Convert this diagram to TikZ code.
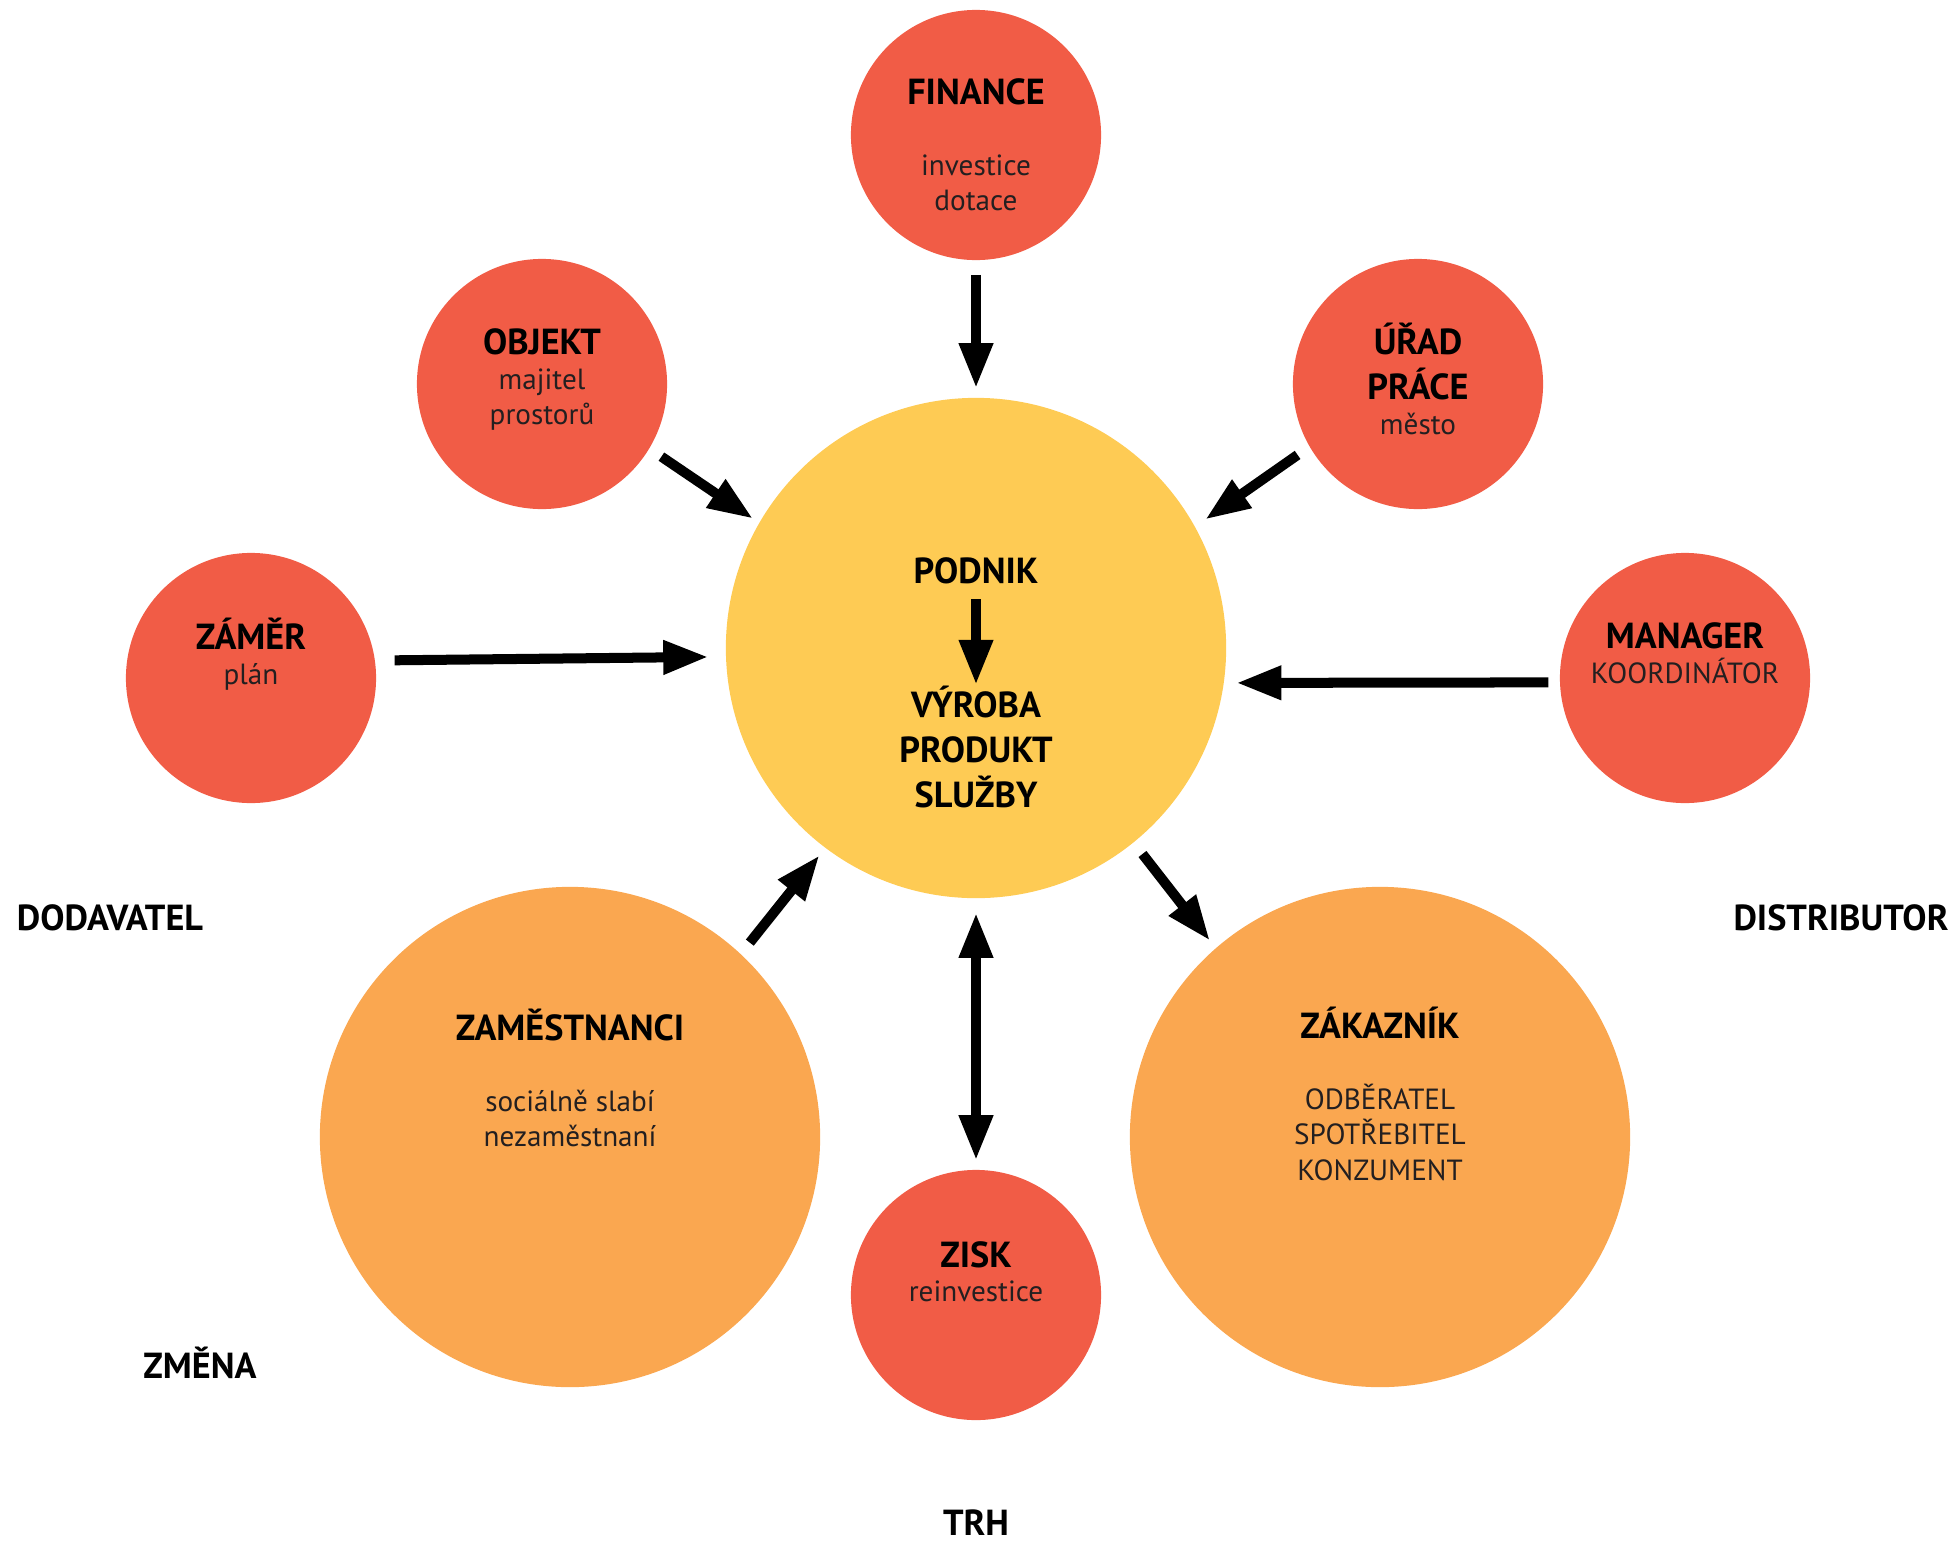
\documentclass[tikz,border=0pt]{standalone}
\usepackage{fontspec}
\setmainfont{PT Sans}
\usepackage{tikz}
\usetikzlibrary{arrows.meta, positioning}
\definecolor{firmred}{RGB}{241,92,70}
\definecolor{firmyellow}{RGB}{254,203,84}
\definecolor{firmorange}{RGB}{250,167,80}
\definecolor{firmgray}{RGB}{35,31,32}
% lines stacked, baseline on the first one
\newcommand{\stk}[1]{\begin{tabular}[t]{@{}c@{}}#1\end{tabular}}

\begin{document}
\begin{tikzpicture}[
  x=0.01cm, y=-0.01cm,
  bub/.style={circle, inner sep=0pt, minimum size=2.5cm, fill=firmred},
  bigbub/.style={circle, inner sep=0pt, minimum size=5cm, fill=firmorange},
  core/.style={bigbub, fill=firmyellow},
  ttl/.style={anchor=base, inner sep=0pt,
    font=\fontsize{10.3}{12.8}\selectfont\bfseries},
  sub/.style={anchor=base, inner sep=0pt, text=firmgray,
    font=\fontsize{8.3}{10}\selectfont},
  arr/.style={-{Triangle[width=0.32cm,length=0.45cm]}, line width=0.1cm,
    shorten <=0.14cm, shorten >=0.09cm},
  arrboth/.style={arr, {Triangle[width=0.32cm,length=0.45cm]}-{Triangle[width=0.32cm,length=0.45cm]}}
]
  \useasboundingbox (0,0) rectangle (1957,1545);

  % Bubbles
  \node[core]   (pod)  at (976,648)   {};
  \node[bub]    (fin)  at (976,135)   {};
  \node[bub]    (obj)  at (542,384)   {};
  \node[bub]    (urad) at (1418,384)  {};
  \node[bub]    (zam)  at (251,678)   {};
  \node[bub]    (man)  at (1685,678)  {};
  \node[bigbub] (emp)  at (570,1137)  {};
  \node[bigbub] (cust) at (1380,1137) {};
  \node[bub]    (zisk) at (976,1295)  {};

  % Bubble texts
  \node[ttl] (fint)  at (976,104)  {FINANCE};
  \node[sub] (fins)  at (976,175)  {\stk{investice\\dotace}};
  \node[ttl] (objt)  at (542,354)  {OBJEKT};
  \node[sub] (objs)  at (542,389)  {\stk{majitel\\prostorů}};
  \node[ttl] (uradt) at (1418,354) {\stk{ÚŘAD\\PRÁCE}};
  \node[sub] (urads) at (1418,434) {město};
  \node[ttl] (zamt)  at (251,649)  {ZÁMĚR};
  \node[sub] (zams)  at (251,684)  {plán};
  \node[ttl] (mant)  at (1685,648) {MANAGER};
  \node[sub] (mans)  at (1685,683) {KOORDINÁTOR};
  \node[ttl] (podt)  at (976,583)  {PODNIK};
  \node[ttl] (vyrt)  at (976,717)  {\stk{VÝROBA\\PRODUKT\\SLUŽBY}};
  \node[ttl] (empt)  at (570,1040) {ZAMĚSTNANCI};
  \node[sub] (emps)  at (570,1111) {\stk{sociálně slabí\\nezaměstnaní}};
  \node[ttl] (custt) at (1380,1038) {ZÁKAZNÍK};
  \node[sub] (custs) at (1380,1109) {\stk{ODBĚRATEL\\SPOTŘEBITEL\\KONZUMENT}};
  \node[ttl] (ziskt) at (976,1267) {ZISK};
  \node[sub] (zisks) at (976,1301) {reinvestice};

  % Outer labels
  \node[ttl] (dod)   at (110,930)  {DODAVATEL};
  \node[ttl] (dist)  at (1841,930) {DISTRIBUTOR};
  \node[ttl] (zmena) at (200,1378) {ZMĚNA};
  \node[ttl] (trh)   at (976,1535) {TRH};

  % Flows
  \draw[arr] (fin) -- (pod);
  \draw[arr, shorten >=0.07cm] (obj.329) -- (pod.150);
  \draw[arr, shorten >=0.12cm] (urad.210) -- (pod.29);
  \draw[arr, shorten <=0.19cm, shorten >=0.17cm] (zam.8) -- (pod.182);
  \draw[arr, shorten <=0.11cm, shorten >=0.12cm] (man.182) -- (pod.352);
  \draw[arr] (emp.47) -- (pod.233);
  \draw[arr] (pod.309) -- (cust.131);
  \draw[arrboth] (pod) -- (zisk);
  \draw[arr, shorten <=0.15cm, shorten >=0pt] (podt) -- (vyrt);

\end{tikzpicture}
\end{document}
